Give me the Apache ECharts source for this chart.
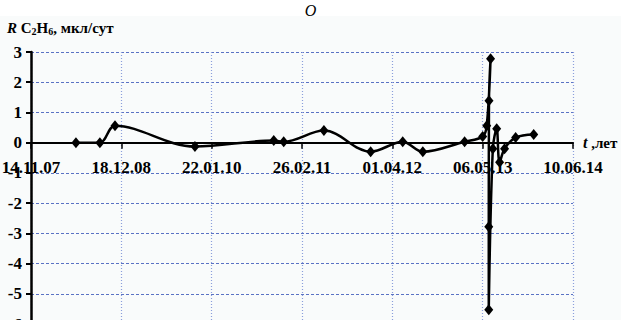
<!DOCTYPE html>
<html>
<head>
<meta charset="utf-8">
<script src="https://cdn.jsdelivr.net/npm/echarts@6/dist/echarts.min.js"></script>
<style>
html,body{margin:0;padding:0;background:#fff;}
#chart{width:621px;height:320px;}
</style>
</head>
<body>
<div id="chart"></div>
<script>
// Date tick labels (400-day steps starting 14.11.2007)
const tickLabels = ['14.11.07','18.12.08','22.01.10','26.02.11','01.04.12','06.05.13','10.06.14'];
const startDate = '2007-11-14';
const yTicks = [-6, -5, -4, -3, -2, -1, 0, 1, 2, 3];

// Measurement dates and values of R C2H6, мкл/сут
const dates = ['2008-05-31','2008-09-14','2008-11-20','2009-11-09','2010-10-24','2010-12-07',
  '2011-06-03','2011-12-27','2012-05-17','2012-08-14','2013-02-15','2013-05-06','2013-05-24',
  '2013-06-10','2013-06-03','2013-06-02','2013-06-02','2013-06-20','2013-07-07','2013-07-20',
  '2013-08-11','2013-09-29','2013-12-18'];
const values = [0, 0, 0.56, -0.13, 0.07, 0.03,
  0.4, -0.3, 0.03, -0.3, 0.03, 0.2, 0.56,
  2.78, 1.39, -2.78, -5.53, -0.2, 0.46, -0.65,
  -0.2, 0.17, 0.27];

function dayOffset(s){
  const p = s.split('-').map(Number), b = startDate.split('-').map(Number);
  return Math.round((Date.UTC(p[0],p[1]-1,p[2]) - Date.UTC(b[0],b[1]-1,b[2]))/86400000);
}
const seriesData = dates.map((d,i)=>[dayOffset(d), values[i]]);

const gridTop = 52, gridHeight = 272;
const yMin = yTicks[0], yMax = yTicks[yTicks.length-1];
// x axis sits on y = 0: shift it up from the grid bottom
const xAxisOffset = -gridHeight * (0 - yMin) / (yMax - yMin);

const chart = echarts.init(document.getElementById('chart'), null, {renderer:'svg'});
const serif = 'Liberation Serif';
chart.setOption({
  animation:false,
  backgroundColor:'#ffffff',
  graphic:[{type:'rect', silent:true, z:-100, left:0, top:16, shape:{width:621, height:304}, style:{fill:'#f9fbfb'}}],
  title:[
    {text:'O', left:'center', top:-3, textStyle:{fontFamily:serif, fontStyle:'italic', fontWeight:'normal', fontSize:16, color:'#000'}},
    {text:'{i|R} C{s|2}H{s|6}, мкл/сут', left:2, top:15,
     textStyle:{fontFamily:serif, fontWeight:'bold', fontSize:15, color:'#000',
       rich:{
         i:{fontFamily:serif, fontStyle:'italic', fontWeight:'bold', fontSize:15, color:'#000'},
         s:{fontFamily:serif, fontWeight:'bold', fontSize:10, color:'#000', padding:[6,0,0,0]}
       }}}
  ],
  grid:{left:31, top:gridTop, width:542, height:gridHeight, outerBoundsMode:'none', containLabel:false},
  xAxis:{
    type:'value', min:0, max:2400, interval:400, position:'bottom', offset:xAxisOffset,
    name:'{i|t} ,лет', nameLocation:'end', nameGap:10,
    nameTextStyle:{fontFamily:serif, fontWeight:'bold', fontSize:15, color:'#000', verticalAlign:'middle',
      rich:{i:{fontFamily:serif, fontStyle:'italic', fontWeight:'bold', fontSize:16, color:'#000'}}},
    axisLine:{onZero:false, lineStyle:{color:'#000', width:2}},
    axisTick:{show:true, length:6, inside:false, lineStyle:{color:'#000', width:1.5}},
    axisLabel:{margin:16, fontFamily:serif, fontWeight:'bold', fontSize:17, color:'#000',
      showMinLabel:true, showMaxLabel:true,
      formatter:function(v){ return tickLabels[Math.round(v/400)] || ''; }},
    splitLine:{show:true, lineStyle:{color:'#8c9fdc', width:1.2, type:[1,2]}}
  },
  yAxis:{
    type:'value', min:yMin, max:yMax, interval:1,
    axisLine:{onZero:false, lineStyle:{color:'#000', width:2.5}},
    axisTick:{show:true, length:5, inside:false, lineStyle:{color:'#000', width:2}},
    axisLabel:{margin:9, fontFamily:serif, fontWeight:'bold', fontSize:17, color:'#000'},
    splitLine:{show:true, lineStyle:{color:'#5a72c4', width:1, type:[3,2]}}
  },
  series:[{
    type:'line', data:seriesData, smooth:0.35,
    symbol:'diamond', symbolSize:[9,11],
    itemStyle:{color:'#000'},
    lineStyle:{color:'#000', width:2.5},
    z:5
  }]
});
</script>
</body>
</html>
